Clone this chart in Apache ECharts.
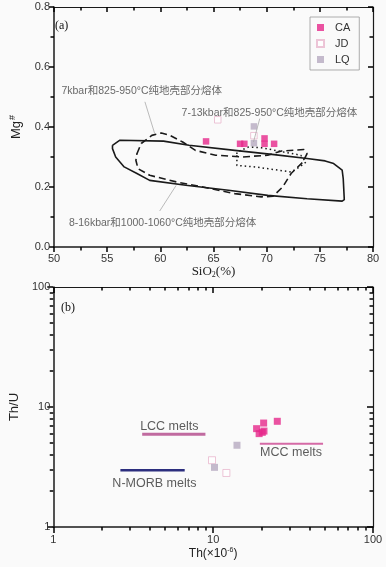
<!DOCTYPE html>
<html>
<head>
<meta charset="utf-8">
<script src="https://cdn.jsdelivr.net/npm/echarts@6/dist/echarts.min.js"></script>
<style>
html, body { margin: 0; padding: 0; background: #fafafa; }
#main { width: 386px; height: 567px; }
</style>
</head>
<body>
<div id="main"></div>
<script>
// ---- panel (a): SiO2 vs Mg# ----
var caA = [[64.3, 0.352], [67.5, 0.344], [67.9, 0.344], [69.8, 0.362], [69.8, 0.344], [70.7, 0.344]];
var jdA = [[65.4, 0.424], [68.8, 0.371]];
var lqA = [[68.8, 0.402], [68.8, 0.346]];

// melt fields (outlines)
var field8to16 = [[55.5, 0.339], [56.2, 0.356], [60.3, 0.353], [62.7, 0.339], [67.0, 0.322], [70.7, 0.308],
    [73.8, 0.295], [75.5, 0.287], [76.3, 0.278], [77.1, 0.256], [77.2, 0.228], [77.3, 0.158], [77.1, 0.153],
    [73.8, 0.161], [70.1, 0.172], [66.4, 0.189], [62.4, 0.206], [59.0, 0.222], [57.8, 0.245], [56.6, 0.267],
    [55.8, 0.300], [55.5, 0.328], [55.5, 0.339]];
var field7 = [[57.8, 0.311], [58.2, 0.345], [59.2, 0.372], [60.1, 0.380], [60.9, 0.372], [62.1, 0.350],
    [63.3, 0.322], [65.2, 0.306], [67.7, 0.300], [70.1, 0.306], [71.4, 0.320], [73.5, 0.325], [73.8, 0.311],
    [73.4, 0.283], [72.3, 0.245], [71.5, 0.200], [70.6, 0.169], [69.5, 0.167], [67.0, 0.178], [64.0, 0.200],
    [61.5, 0.217], [59.0, 0.239], [57.9, 0.261], [57.7, 0.289], [57.8, 0.311]];
var field7to13 = [[67.2, 0.306], [67.2, 0.272], [68.9, 0.267], [72.3, 0.250], [73.1, 0.267], [73.7, 0.283],
    [73.2, 0.306], [71.1, 0.320], [69.5, 0.331], [68.3, 0.333], [67.2, 0.317], [67.2, 0.306]];

var leader7 = [[58.55, 0.484], [59.47, 0.378]];
var leader7to13 = [[69.35, 0.428], [68.76, 0.350]];
var leader8to16 = [[59.94, 0.120], [61.48, 0.205]];

var notesA = [
    { name: '7kbar和825-950°C纯地壳部分熔体', value: [50.7, 0.519] },
    { name: '7-13kbar和825-950°C纯地壳部分熔体', value: [62.0, 0.445] },
    { name: '8-16kbar和1000-1060°C纯地壳部分熔体', value: [51.4, 0.081] }
];

// ---- panel (b): Th vs Th/U ----
var caB = [[18.7, 6.6], [20.7, 7.35], [25.2, 7.6], [19.4, 6.0], [20.3, 6.15], [20.8, 6.3]];
var jdB = [[9.84, 3.6], [12.1, 2.82]];
var lqB = [[14.1, 4.8], [10.2, 3.14]];

var lccLine = [[3.6, 5.92], [8.95, 5.92]];
var mccLine = [[19.6, 4.95], [48.7, 4.95]];
var morbLine = [[2.63, 2.97], [6.64, 2.97]];

var notesB = [
    { name: 'LCC melts', value: [5.32, 6.9] },
    { name: 'MCC melts', value: [30.7, 4.17] },
    { name: 'N-MORB melts', value: [4.29, 2.30] }
];

var logMajor = [1, 10, 100];
var logMinor = [2, 3, 4, 5, 6, 7, 8, 9, 20, 30, 40, 50, 60, 70, 80, 90];

var caColor = '#e6288b';
var jdColor = '#e8b6cd';
var lqColor = '#b6aac0';
var ink = '#1a1a1a';
var sans = '"Liberation Sans", Arial, "Noto Sans CJK SC", sans-serif';
var serif = '"Liberation Serif", "Times New Roman", serif';

var chart = echarts.init(document.getElementById('main'));

// an axis that only draws ticks (used for the frame's top/right sides and log minor ticks)
function tickAxis(type, pos, grid, extra) {
    var ax = {
        type: type, gridIndex: grid, position: pos,
        axisLine: { show: false },
        axisLabel: { show: false },
        splitLine: { show: false },
        axisTick: { show: true }
    };
    return Object.assign(ax, extra);
}

var tickLine = { color: '#000', width: 1.5 };
var majLen = 5, minLen = 3.5;
var labelStyle = { color: '#333', fontSize: 11, fontFamily: sans };
var lineStrong = { show: true, onZero: false, lineStyle: { color: ink, width: 1.5 } };
var frameLine = { show: true, onZero: false, lineStyle: { color: ink, width: 1.2 } };

var option = {
    backgroundColor: '#fafafa',
    animation: false,
    title: [
        { text: '(a)', left: 50, top: 15, textStyle: { fontFamily: serif, fontSize: 12, fontWeight: 'normal', color: '#111' } },
        { text: '(b)', left: 56, top: 297, textStyle: { fontFamily: serif, fontSize: 12, fontWeight: 'normal', color: '#111' } }
    ],
    legend: {
        data: ['CA', 'JD', 'LQ'],
        orient: 'vertical',
        left: 310, top: 17,
        padding: [5, 9, 5, 6],
        itemGap: 5,
        itemWidth: 7, itemHeight: 7,
        icon: 'rect',
        borderColor: '#999', borderWidth: 0.8,
        backgroundColor: '#fafafa',
        textStyle: { color: '#333', fontSize: 11, fontFamily: sans, padding: [0, 0, 0, 6] }
    },
    grid: [
        { left: 49, top: 7, width: 324, height: 240 },
        { left: 49, top: 287, width: 324, height: 240 }
    ],
    xAxis: [
        {
            type: 'value', gridIndex: 0, min: 50, max: 80, interval: 5,
            axisLine: lineStrong,
            axisTick: { show: true, length: majLen, lineStyle: tickLine },
            minorTick: { show: true, splitNumber: 2, length: minLen, lineStyle: tickLine },
            axisLabel: Object.assign({ margin: 6 }, labelStyle),
            splitLine: { show: false },
            name: '{t|SiO}{s|2}{t|(%)}', nameLocation: 'middle', nameGap: 14,
            nameTextStyle: {
                rich: {
                    t: { fontFamily: serif, fontSize: 13, color: '#222' },
                    s: { fontFamily: serif, fontSize: 8, color: '#222', padding: [7, 0, 0, 0] }
                }
            }
        },
        tickAxis('value', 'top', 0, {
            min: 50, max: 80, interval: 5,
            axisLine: frameLine,
            axisTick: { show: true, inside: true, length: majLen, lineStyle: tickLine },
            minorTick: { show: true, splitNumber: 2, length: minLen, lineStyle: tickLine }
        }),
        {
            type: 'log', gridIndex: 1, min: 1, max: 100, logBase: 10,
            axisLine: lineStrong,
            axisTick: { show: true, customValues: logMajor, length: majLen + 1, lineStyle: tickLine },
            axisLabel: Object.assign({ customValues: logMajor, margin: 7 }, labelStyle),
            splitLine: { show: false },
            name: '{t|Th(×10}{s|-6}{t|)}', nameLocation: 'middle', nameGap: 20,
            nameTextStyle: {
                rich: {
                    t: { fontFamily: sans, fontSize: 12, color: '#222' },
                    s: { fontFamily: sans, fontSize: 7, color: '#222', padding: [0, 0, 7, 0] }
                }
            }
        },
        tickAxis('log', 'bottom', 1, {
            min: 1, max: 100, logBase: 10,
            axisTick: { show: true, customValues: logMinor, length: minLen, lineStyle: tickLine }
        }),
        tickAxis('log', 'top', 1, {
            min: 1, max: 100, logBase: 10,
            axisLine: frameLine,
            axisTick: { show: true, customValues: logMajor, inside: true, length: majLen + 1, lineStyle: tickLine }
        }),
        tickAxis('log', 'top', 1, {
            min: 1, max: 100, logBase: 10,
            axisTick: { show: true, customValues: logMinor, inside: true, length: minLen, lineStyle: tickLine }
        })
    ],
    yAxis: [
        {
            type: 'value', gridIndex: 0, min: 0, max: 0.8, interval: 0.2,
            axisLine: lineStrong,
            axisTick: { show: true, length: majLen, lineStyle: tickLine },
            minorTick: { show: true, splitNumber: 2, length: minLen, lineStyle: tickLine },
            axisLabel: Object.assign({ margin: 4, formatter: function (v) { return v.toFixed(1); } }, labelStyle),
            splitLine: { show: false },
            name: '{t|Mg}{s|#}', nameLocation: 'middle', nameGap: 30, nameRotate: 90,
            nameTextStyle: {
                rich: {
                    t: { fontFamily: sans, fontSize: 13, color: '#222' },
                    s: { fontFamily: sans, fontSize: 9, color: '#222', padding: [0, 0, 7, 1] }
                }
            }
        },
        tickAxis('value', 'right', 0, {
            min: 0, max: 0.8, interval: 0.2,
            axisLine: frameLine,
            axisTick: { show: true, inside: true, length: majLen, lineStyle: tickLine },
            minorTick: { show: true, splitNumber: 2, length: minLen, lineStyle: tickLine }
        }),
        {
            type: 'log', gridIndex: 1, min: 1, max: 100, logBase: 10,
            axisLine: lineStrong,
            axisTick: { show: true, customValues: logMajor, length: majLen + 1, lineStyle: tickLine },
            axisLabel: Object.assign({ customValues: logMajor, margin: 3 }, labelStyle),
            splitLine: { show: false },
            name: 'Th/U', nameLocation: 'middle', nameGap: 30, nameRotate: 90,
            nameTextStyle: { fontFamily: sans, fontSize: 13, color: '#222' }
        },
        tickAxis('log', 'left', 1, {
            min: 1, max: 100, logBase: 10,
            axisTick: { show: true, customValues: logMinor, length: minLen, lineStyle: tickLine }
        }),
        tickAxis('log', 'right', 1, {
            min: 1, max: 100, logBase: 10,
            axisLine: frameLine,
            axisTick: { show: true, customValues: logMajor, inside: true, length: majLen + 1, lineStyle: tickLine }
        }),
        tickAxis('log', 'right', 1, {
            min: 1, max: 100, logBase: 10,
            axisTick: { show: true, customValues: logMinor, inside: true, length: minLen, lineStyle: tickLine }
        })
    ],
    series: [
        // fields (a)
        { type: 'line', xAxisIndex: 0, yAxisIndex: 0, data: field8to16, symbol: 'none', silent: true,
          lineStyle: { color: ink, width: 1.6 } },
        { type: 'line', xAxisIndex: 0, yAxisIndex: 0, data: field7, symbol: 'none', silent: true,
          lineStyle: { color: ink, width: 1.6, type: [7, 4] } },
        { type: 'line', xAxisIndex: 0, yAxisIndex: 0, data: field7to13, symbol: 'none', silent: true,
          lineStyle: { color: ink, width: 1.5, type: [1.5, 3] } },
        // leader lines
        { type: 'line', xAxisIndex: 0, yAxisIndex: 0, data: leader7, symbol: 'none', silent: true,
          lineStyle: { color: '#aaa', width: 0.8 } },
        { type: 'line', xAxisIndex: 0, yAxisIndex: 0, data: leader7to13, symbol: 'none', silent: true,
          lineStyle: { color: '#aaa', width: 0.8 } },
        { type: 'line', xAxisIndex: 0, yAxisIndex: 0, data: leader8to16, symbol: 'none', silent: true,
          lineStyle: { color: '#aaa', width: 0.8 } },
        // annotations (a)
        { type: 'scatter', xAxisIndex: 0, yAxisIndex: 0, data: notesA, symbolSize: 0, silent: true,
          label: { show: true, position: [0, 0], align: 'left', verticalAlign: 'middle',
                   formatter: '{b}', color: '#444', fontSize: 10.5, fontFamily: sans } },
        // samples (a)
        { name: 'CA', type: 'scatter', xAxisIndex: 0, yAxisIndex: 0, data: caA, symbol: 'rect', symbolSize: 6.5,
          itemStyle: { color: caColor } },
        { name: 'JD', type: 'scatter', xAxisIndex: 0, yAxisIndex: 0, data: jdA, symbol: 'rect', symbolSize: 6.5,
          itemStyle: { color: '#fff', borderColor: jdColor, borderWidth: 1 } },
        { name: 'LQ', type: 'scatter', xAxisIndex: 0, yAxisIndex: 0, data: lqA, symbol: 'rect', symbolSize: 6.5,
          itemStyle: { color: lqColor } },
        // melt lines (b)
        { type: 'line', xAxisIndex: 2, yAxisIndex: 2, data: lccLine, symbol: 'none', silent: true,
          lineStyle: { color: '#c06a9f', width: 3 } },
        { type: 'line', xAxisIndex: 2, yAxisIndex: 2, data: mccLine, symbol: 'none', silent: true,
          lineStyle: { color: '#d56aa6', width: 2 } },
        { type: 'line', xAxisIndex: 2, yAxisIndex: 2, data: morbLine, symbol: 'none', silent: true,
          lineStyle: { color: '#2c2e7e', width: 2.5 } },
        { type: 'scatter', xAxisIndex: 2, yAxisIndex: 2, data: notesB, symbolSize: 0, silent: true,
          label: { show: true, position: [0, 0], align: 'center', verticalAlign: 'middle',
                   formatter: '{b}', color: '#333', fontSize: 12.5, fontFamily: sans } },
        // samples (b)
        { name: 'CA', type: 'scatter', xAxisIndex: 2, yAxisIndex: 2, data: caB, symbol: 'rect', symbolSize: 7,
          itemStyle: { color: caColor } },
        { name: 'JD', type: 'scatter', xAxisIndex: 2, yAxisIndex: 2, data: jdB, symbol: 'rect', symbolSize: 7,
          itemStyle: { color: '#fff', borderColor: jdColor, borderWidth: 1 } },
        { name: 'LQ', type: 'scatter', xAxisIndex: 2, yAxisIndex: 2, data: lqB, symbol: 'rect', symbolSize: 7,
          itemStyle: { color: lqColor } }
    ]
};

chart.setOption(option);
</script>
</body>
</html>
